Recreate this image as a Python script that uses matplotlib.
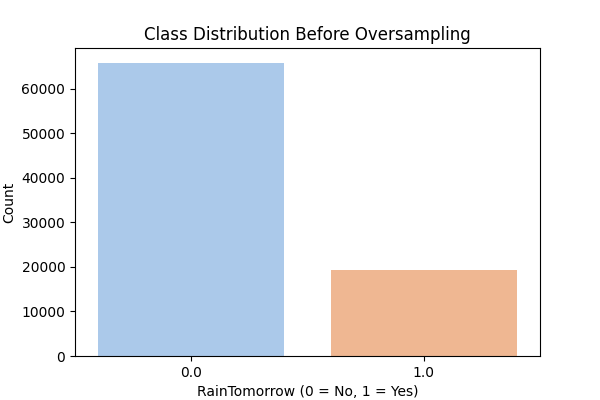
import matplotlib

matplotlib.use("Agg")

import matplotlib.pyplot as plt
import seaborn as sns

classes = ["0.0", "1.0"]
counts = [65900, 19350]

fig, ax = plt.subplots(figsize=(6, 4), dpi=100)
sns.barplot(x=classes, y=counts, hue=classes, palette="pastel", legend=False, ax=ax)
ax.set_title("Class Distribution Before Oversampling")
ax.set_xlabel("RainTomorrow (0 = No, 1 = Yes)")
ax.set_ylabel("Count")
fig.subplots_adjust(left=0.125, right=0.9, top=0.88, bottom=0.11)
fig.savefig("out.png", dpi=100)
